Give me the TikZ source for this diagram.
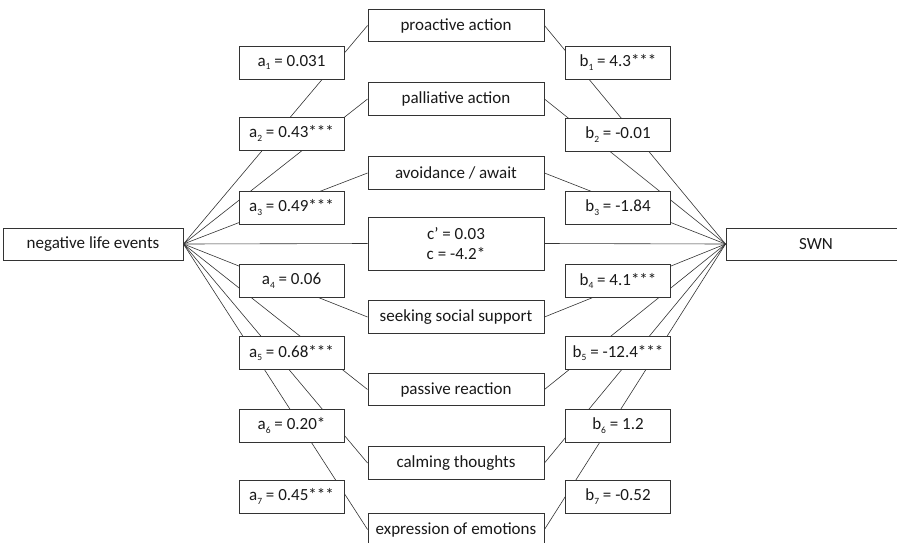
\documentclass[tikz,border=0pt]{standalone}
\usepackage{fontspec}
\setmainfont{Carlito}
\newcommand{\idx}[1]{\raisebox{-0.45ex}{\fontsize{9.5}{10}\selectfont #1}}

\begin{document}
\begin{tikzpicture}[
    x=1pt, y=-1pt,
    every node/.style={font=\fontsize{17}{19}\selectfont, text=black!90},
    varbox/.style={draw=black!80, fill=white, line width=0.9pt, minimum width=180pt, minimum height=32pt, inner sep=0pt},
    medbox/.style={draw=black!80, fill=white, line width=0.9pt, minimum width=176pt, minimum height=32.5pt, inner sep=0pt},
    coefbox/.style={draw=black!80, fill=white, line width=0.9pt, minimum width=105pt, minimum height=33pt, inner sep=0pt},
    path/.style={draw=black!80, line width=0.6pt},
]
\useasboundingbox (0,0) rectangle (897,542);
\begin{scope}
\clip (0,0) rectangle (897,542);

% === Predictor and outcome ===
\node[varbox] (nle) at (93,244) {negative life events};
\node[varbox] (swn) at (816,244) {SWN};

% === Mediators ===
\node[medbox] (m1) at (456,25.5) {proactive action};
\node[medbox] (m2) at (456,99) {palliative action};
\node[medbox] (m3) at (456,173) {avoidance / await};
\node[medbox, minimum height=53pt, align=center] (cc) at (456,243.5) {c’ = 0.03\\[1pt]c = -4.2*};
\node[medbox] (m4) at (456,317) {seeking social support};
\node[medbox] (m5) at (456,389.5) {passive reaction};
\node[medbox] (m6) at (456,463) {calming thoughts};
\node[medbox] (m7) at (456,529.5) {expression of emotions};

% === Paths ===
\draw[path] (nle.east) -- (cc.west);
\draw[path] (cc.east) -- (swn.west);
\draw[path] (nle.east) -- (m1.west);
\draw[path] (nle.east) -- (m2.west);
\draw[path] (nle.east) -- (m3.west);
\draw[path] (nle.east) -- (m4.west);
\draw[path] (nle.east) -- (m5.west);
\draw[path] (nle.east) -- (m6.west);
\draw[path] (nle.east) -- (m7.west);
\draw[path] (m1.east) -- (swn.west);
\draw[path] (m2.east) -- (swn.west);
\draw[path] (m3.east) -- (swn.west);
\draw[path] (m4.east) -- (swn.west);
\draw[path] (m5.east) -- (swn.west);
\draw[path] (m6.east) -- (swn.west);
\draw[path] (m7.east) -- (swn.west);

% === a coefficients ===
\node[coefbox] (a1) at (291.5,62.5) {a\idx{1} = 0.031};
\node[coefbox] (a2) at (291.5,133.5) {a\idx{2} = 0.43***};
\node[coefbox] (a3) at (291.5,207.5) {a\idx{3} = 0.49***};
\node[coefbox] (a4) at (291.5,281) {a\idx{4} = 0.06};
\node[coefbox] (a5) at (291.5,353) {a\idx{5} = 0.68***};
\node[coefbox] (a6) at (291.5,425.5) {a\idx{6} = 0.20*};
\node[coefbox] (a7) at (291.5,496.5) {a\idx{7} = 0.45***};

% === b coefficients ===
\node[coefbox] (b1) at (618,62.5) {b\idx{1} = 4.3***};
\node[coefbox] (b2) at (618,134.5) {b\idx{2} = -0.01};
\node[coefbox] (b3) at (618,207.5) {b\idx{3} = -1.84};
\node[coefbox] (b4) at (618,281) {b\idx{4} = 4.1***};
\node[coefbox] (b5) at (618,353) {b\idx{5} = -12.4***};
\node[coefbox] (b6) at (618,425.5) {b\idx{6} = 1.2};
\node[coefbox] (b7) at (618,496.5) {b\idx{7} = -0.52};
\end{scope}

\end{tikzpicture}
\end{document}
